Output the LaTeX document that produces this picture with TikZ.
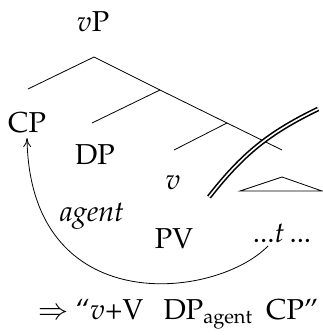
\documentclass[tikz,border=0pt]{standalone}
\usepackage[T1]{fontenc}
\usepackage{mathpazo}
\usepackage{amsmath}
\usetikzlibrary{arrows.meta}

\begin{document}
\begin{tikzpicture}[x=0.5pt,y=-0.5pt,
  lab/.style={font=\Large,inner sep=0pt,anchor=base},
  br/.style={line width=0.4pt},
  mv/.style={-{To[length=1.6mm,width=1.4mm]},line width=0.4pt},
  cut/.style={double,line width=0.8pt,double distance=0.8pt}]
 \useasboundingbox (0,0) rectangle (322,335);
 % labels
 \node[lab] (vp) at (93,32) {$v$P};
 \node[lab] (cp) at (27,133) {CP};
 \node[lab] (dp) at (95,165) {DP};
 \node[lab] (v) at (173,190) {$v$};
 \node[lab] (ag) at (92,221) {\itshape agent};
 \node[lab] (pv) at (174,248) {PV};
 \node[lab] (t) at (282,242) {...$t$\,...};
 \node[lab] (res) at (178,319) {$\Rightarrow$ ``$v$+V\hspace{0.7em}DP$_{\text{agent}}$\hspace{0.45em}CP''};
 % tree
 \coordinate (top) at (94,57);
 \coordinate (n1) at (160,90);
 \coordinate (n2) at (227,123);
 \draw[br] (28,89) -- (top) -- (n1) -- (n2) -- (282,150);
 \draw[br] (n1) -- (92,123);
 \draw[br] (n2) -- (174,150);
 \draw[br] (240,191) -- (282,177) -- (322,191) -- cycle;
 % phase edge
 \draw[cut] (209,197) to[bend left=13] (318,109);
 % movement
 \coordinate (tt) at (268,246);
 \draw[mv] (tt) .. controls (215,300) and (30,320) .. ([yshift=-2pt]cp.south);
\end{tikzpicture}
\end{document}
